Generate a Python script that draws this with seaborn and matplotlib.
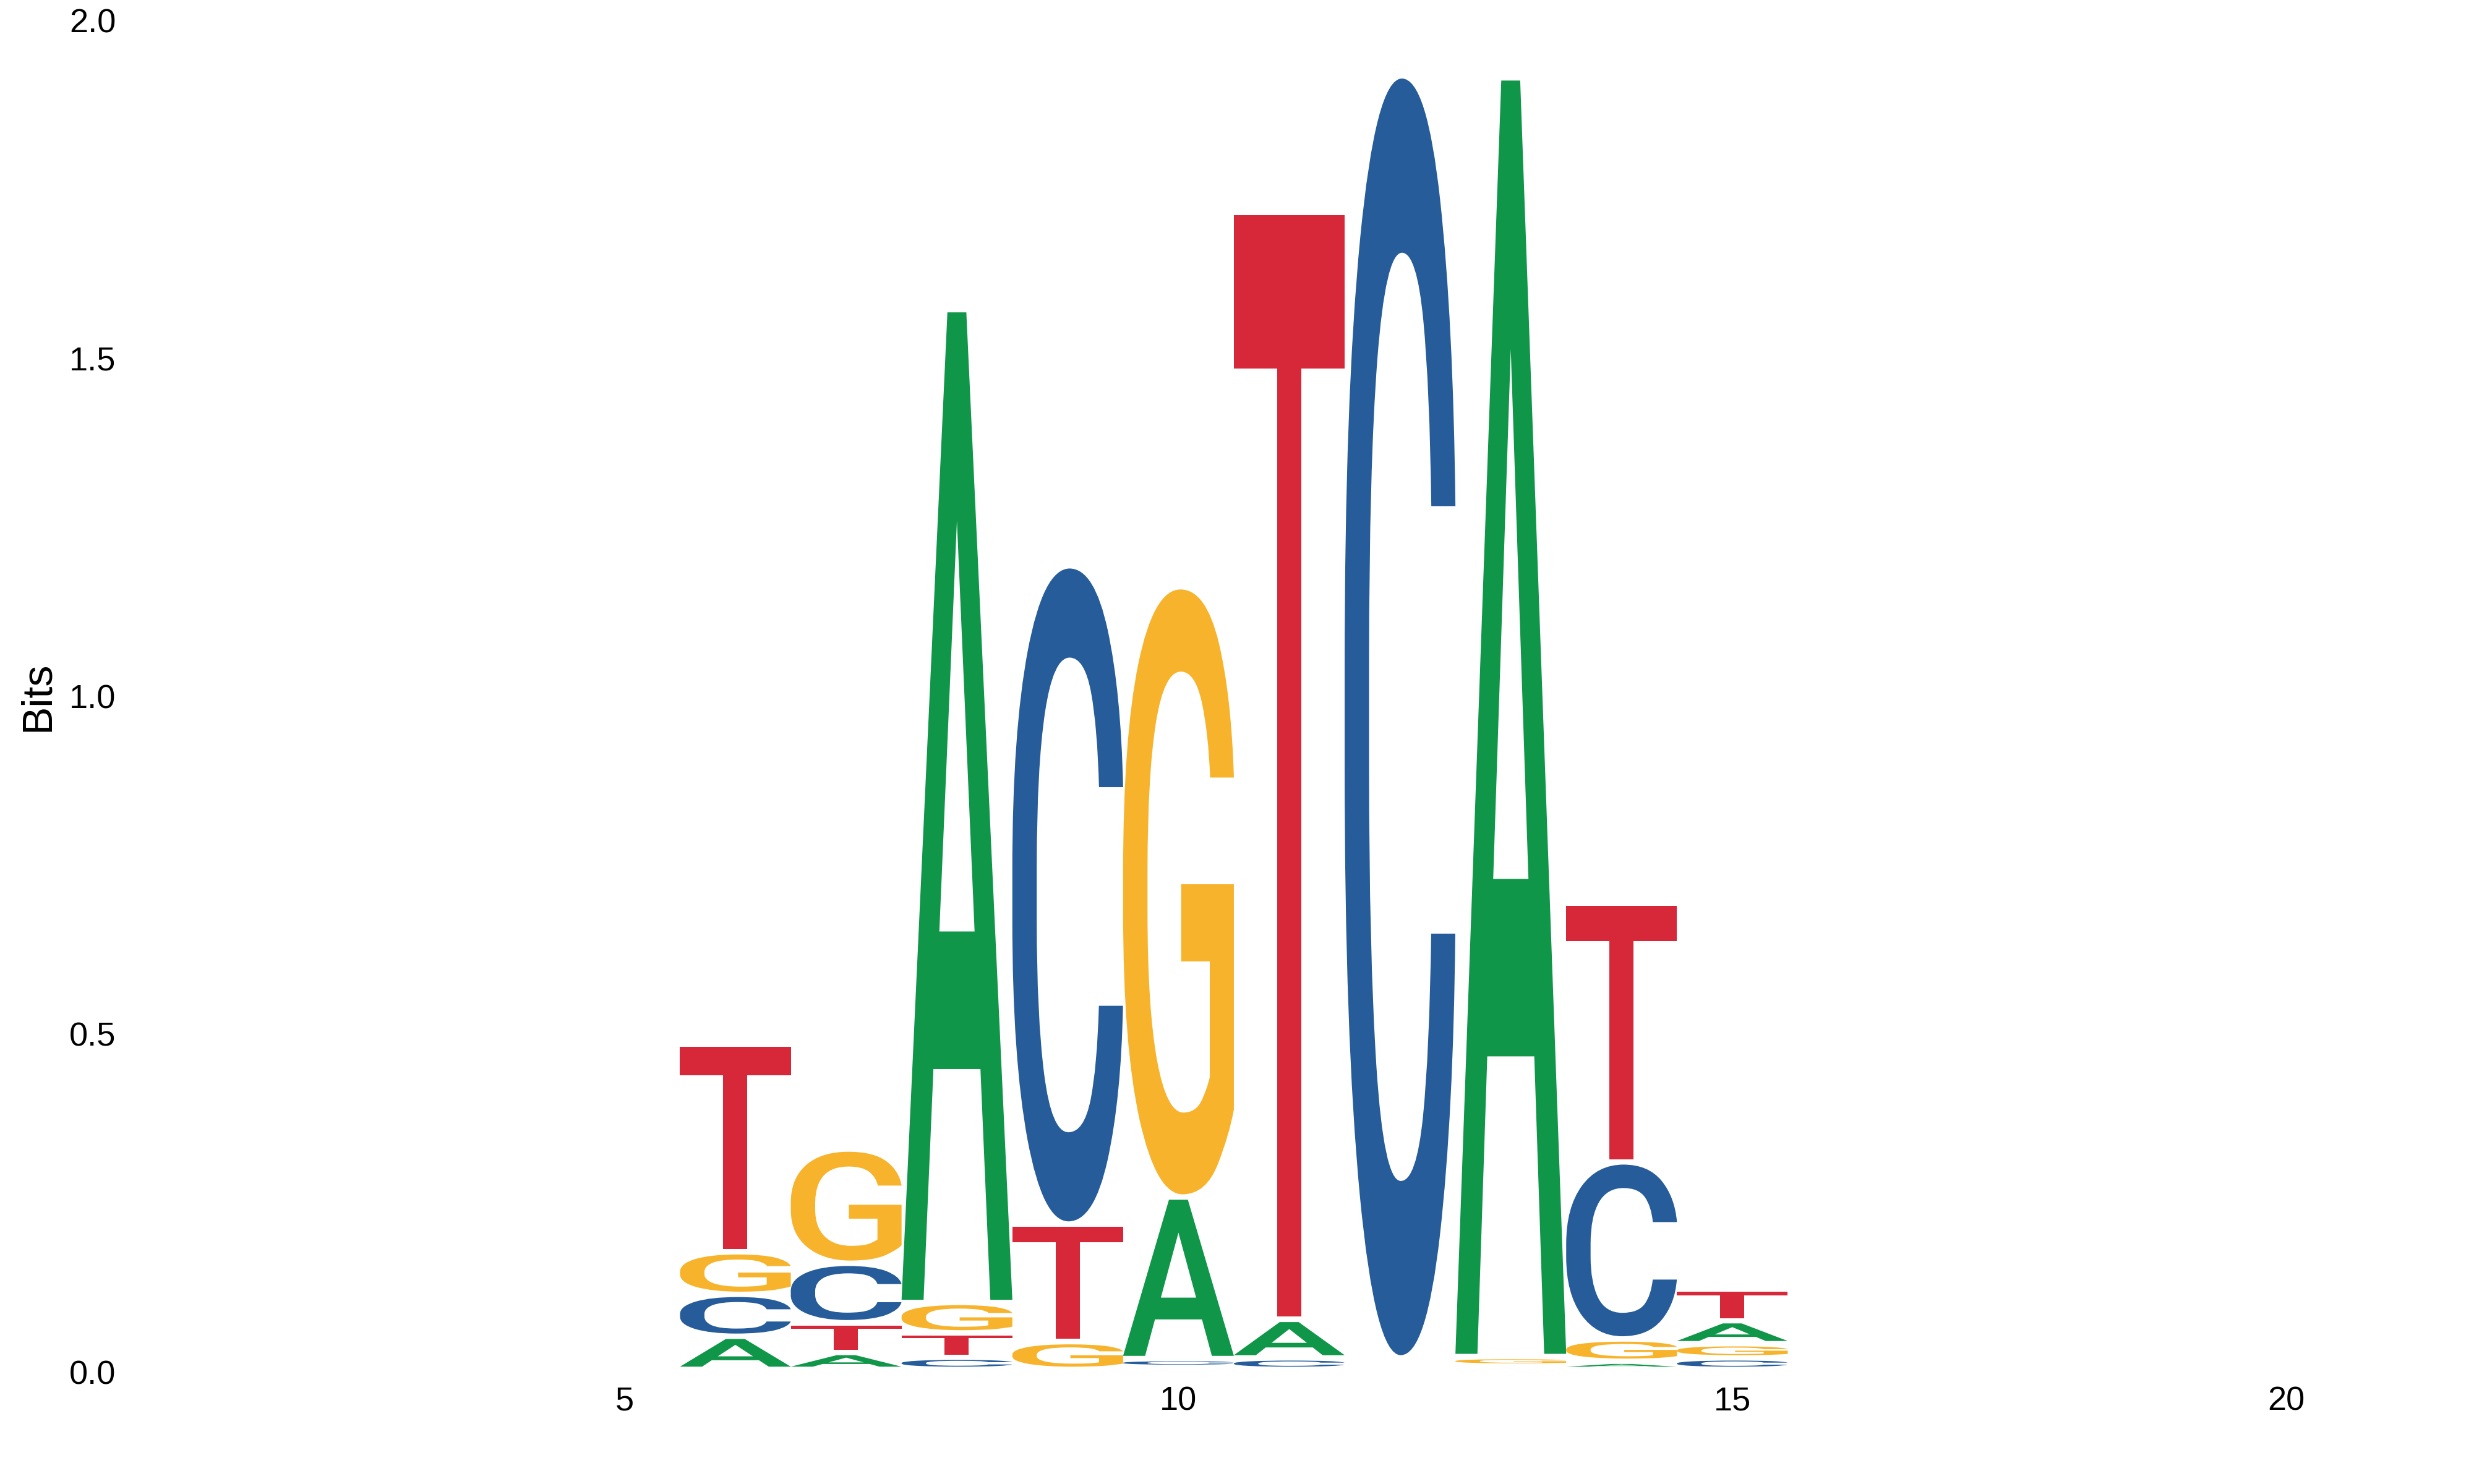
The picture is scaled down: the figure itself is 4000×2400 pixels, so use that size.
import matplotlib
matplotlib.use('Agg')
import matplotlib.pyplot as plt
import seaborn as sns
from matplotlib.textpath import TextPath
from matplotlib.patches import PathPatch
from matplotlib.font_manager import FontProperties
from matplotlib.transforms import Affine2D

# information content (bits) per letter at each motif position
positions = [6, 7, 8, 9, 10, 11, 12, 13, 14, 15]
bits_A = [0.049, 0.025, 1.469, 0.000, 0.239, 0.057, 0.006, 1.892, 0.012, 0.034]
bits_C = [0.062, 0.088, 0.018, 0.974, 0.013, 0.017, 1.897, 0.002, 0.262, 0.017]
bits_G = [0.063, 0.169, 0.045, 0.041, 0.903, 0.000, 0.005, 0.014, 0.033, 0.021]
bits_T = [0.307, 0.044, 0.036, 0.174, 0.003, 1.638, 0.006, 0.003, 0.383, 0.047]

letters = ['A', 'C', 'G', 'T']
colors = {'A': '#109648', 'C': '#255C99', 'G': '#F7B32B', 'T': '#D62839'}

x_ticks = [5, 10, 15, 20]
y_ticks = [0.0, 0.5, 1.0, 1.5, 2.0]

sns.set_theme(style='white')
plt.rcParams['font.family'] = ['Liberation Sans', 'DejaVu Sans']

glyph_font = FontProperties(family='Roboto', weight=500)
GAP = 0.008


def draw_letter(ax, letter, x, y0, height, width=1.0):
    '''Stretch a glyph to fill [x-w/2, x+w/2] x [y0+GAP, y0+height]'''
    h = height - GAP
    if h <= 0:
        return
    tp = TextPath((0, 0), letter, size=1, prop=glyph_font)
    ext = tp.get_extents()
    tr = (Affine2D()
          .translate(-ext.x0, -ext.y0)
          .scale(width / ext.width, h / ext.height)
          .translate(x - width / 2, y0 + GAP))
    patch = PathPatch(tr.transform_path(tp), facecolor=colors[letter],
                      edgecolor='none', lw=0)
    ax.add_patch(patch)


fig = plt.figure(figsize=(20, 12), dpi=200)
ax = fig.add_axes([0.051, 0.07542, 0.94025, 0.91083])

table = {'A': bits_A, 'C': bits_C, 'G': bits_G, 'T': bits_T}
for i, pos in enumerate(positions):
    col = sorted(((table[l][i], l) for l in letters))
    base = 0.0
    for h, l in col:
        draw_letter(ax, l, pos, base, h)
        base += h

ax.set_xlim(0.5, 21.5)
ax.set_ylim(0, 2)
ax.set_xticks(x_ticks)
ax.set_yticks(y_ticks)
ax.set_yticklabels([f'{v:.1f}' for v in y_ticks])
ax.tick_params(axis='both', length=0, labelsize=19.5, colors='black')
ax.tick_params(axis='x', pad=8)
ax.tick_params(axis='y', pad=6)
ax.set_ylabel('Bits', fontsize=24.5, labelpad=7, color='black')
ax.grid(False)
sns.despine(ax=ax, left=True, bottom=True)

fig.savefig('out.png', dpi=200, facecolor='white')
